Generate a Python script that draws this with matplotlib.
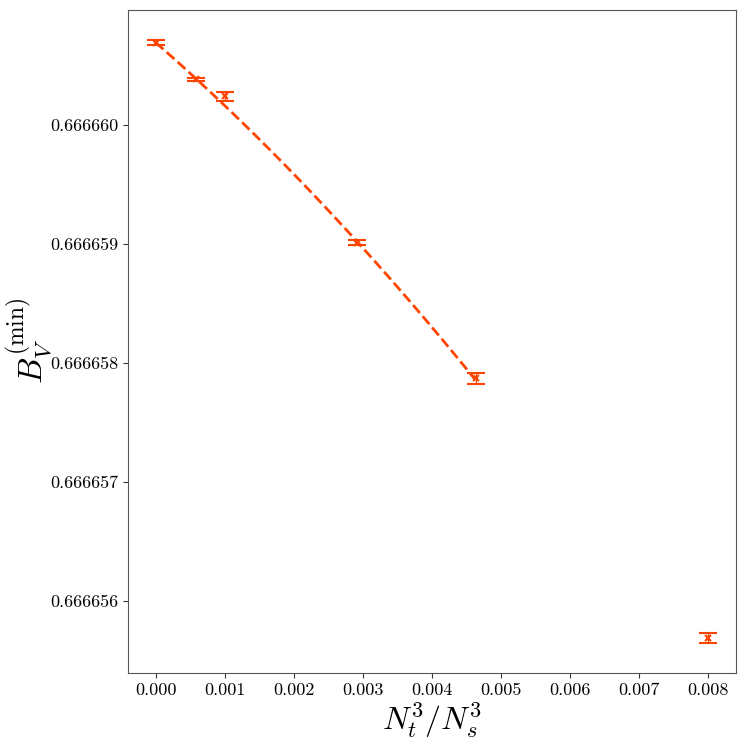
import numpy as np
import matplotlib
matplotlib.use("Agg")
import matplotlib.pyplot as plt
from matplotlib.ticker import MultipleLocator, FormatStrFormatter

plt.rcParams['font.family'] = 'serif'
plt.rcParams['font.serif'] = ['cmr10', 'DejaVu Serif']
plt.rcParams['mathtext.fontset'] = 'cm'
plt.rcParams['axes.formatter.use_mathtext'] = True

# data
x_vals = [0.0, 0.000579, 0.001, 0.002915, 0.00463, 0.008]
y_vals = [0.66666069, 0.66666038, 0.66666024, 0.66665901, 0.66665787, 0.66665569]
y_errs = [0.00000002, 0.000000015, 0.000000038, 0.00000002, 0.000000045, 0.00000004]
n_fit = 5  # fit uses first five points

col = '#ff4500'

fig, ax = plt.subplots(figsize=(7.47, 7.47), dpi=100)

x = np.array(x_vals)
y = np.array(y_vals)
e = np.array(y_errs)

ax.errorbar(x, y, yerr=e, fmt='x', color=col, ms=4.5, mew=1.5,
            capsize=6.5, elinewidth=1.0, capthick=1.0, zorder=3)

coef = np.polyfit(x[:n_fit], y[:n_fit], 2, w=1/e[:n_fit])
xf = np.linspace(0, x[n_fit-1], 100)
ax.plot(xf, np.polyval(coef, xf), '--', color=col, lw=2, zorder=2)

ax.yaxis.set_major_locator(MultipleLocator(1e-6))
ax.yaxis.set_major_formatter(FormatStrFormatter('%.6f'))
ax.xaxis.set_major_locator(MultipleLocator(0.001))
ax.xaxis.set_major_formatter(FormatStrFormatter('%.3f'))
ax.tick_params(labelsize=13, color='#333333')
for s in ax.spines.values():
    s.set_color('#555555')

ax.set_xlabel(r'$N_t^3/N_s^3$', fontsize=23, labelpad=2)
ax.set_ylabel(r'$B_V^{(\mathrm{min})}$', fontsize=24)
ax.yaxis.set_label_coords(-0.122, 0.5)

fig.subplots_adjust(left=0.1714, right=0.9853, top=0.9866, bottom=0.0991)
fig.savefig('out.png', dpi=100)
